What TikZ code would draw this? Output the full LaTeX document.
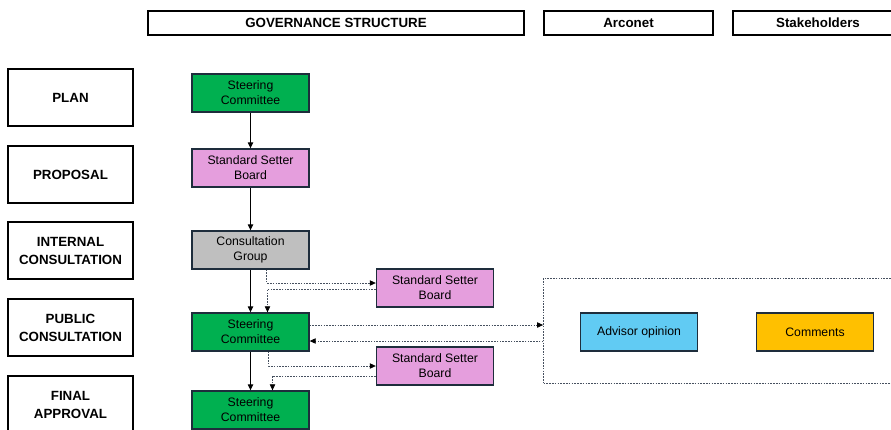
\documentclass[tikz,border=0pt]{standalone}
\usepackage{fontspec}
\setmainfont{Liberation Sans}
\usetikzlibrary{positioning,calc,arrows.meta}

\definecolor{scgreen}{RGB}{0,176,80}
\definecolor{ssbpink}{RGB}{229,158,221}
\definecolor{cggray}{RGB}{191,191,191}
\definecolor{advblue}{RGB}{97,203,243}
\definecolor{comorange}{RGB}{255,192,0}
\definecolor{edgenavy}{RGB}{30,45,60}
\definecolor{dotgray}{RGB}{70,80,95}

\tikzset{
  hdr/.style={draw=black, line width=1pt, inner sep=0pt, minimum height=18pt,
    font=\fontsize{10}{12}\selectfont\bfseries},
  stage/.style={draw=black, line width=1.2pt, inner sep=0pt, minimum width=93.75pt,
    minimum height=42.75pt, align=center, font=\fontsize{10}{13.5}\selectfont\bfseries},
  procbox/.style={draw=edgenavy, line width=1pt, inner sep=0pt, minimum width=87.75pt,
    minimum height=28.5pt, align=center, font=\fontsize{9.2}{11.2}\selectfont},
  solidarrow/.style={-{Triangle[length=4.5pt,width=4pt]}, line width=0.8pt, black},
  dotarrow/.style={-{Triangle[length=4.5pt,width=4pt,black]}, line width=0.6pt, dotgray,
    dash pattern=on 1.2pt off 0.9pt},
  dotbox/.style={draw=dotgray, line width=0.6pt, dash pattern=on 1.2pt off 0.9pt,
    inner sep=0pt, minimum width=264pt, minimum height=78.75pt}
}

\begin{document}
\begin{tikzpicture}[x=0.75pt, y=-0.75pt]
    \useasboundingbox (0,0) rectangle (891,429);
    \clip (0,0) rectangle (891,429);
    % Headers
    \node[hdr, minimum width=282pt] (hdrGov) at (336,23) {GOVERNANCE STRUCTURE};
    \node[hdr, minimum width=126.75pt] (hdrArc) at (628.5,23) {Arconet};
    \node[hdr, minimum width=127.5pt] (hdrStk) at (818,23) {Stakeholders};
    % Stages
    \node[stage] (stPlan) at (70.5,97.5) {PLAN};
    \node[stage] (stProp) at (70.5,174.5) {PROPOSAL};
    \node[stage] (stInt) at (70.5,250.5) {INTERNAL\\CONSULTATION};
    \node[stage] (stPub) at (70.5,327.5) {PUBLIC\\CONSULTATION};
    \node[stage] (stFin) at (70.5,404.5) {FINAL\\APPROVAL};
    % Governance column
    \node[procbox, fill=scgreen] (scPlan) at (250.5,93) {Steering\\Committee};
    \node[procbox, fill=ssbpink] (ssbProp) at (250.5,168) {Standard Setter\\Board};
    \node[procbox, fill=cggray] (cgInt) at (250.5,250) {Consultation\\Group};
    \node[procbox, fill=scgreen] (scPub) at (250.5,332) {Steering\\Committee};
    \node[procbox, fill=scgreen] (scFin) at (250.5,410) {Steering\\Committee};
    \node[procbox, fill=ssbpink] (ssbA) at (435,288) {Standard Setter\\Board};
    \node[procbox, fill=ssbpink] (ssbB) at (435,366) {Standard Setter\\Board};
    % Public consultation box
    \node[dotbox] (pubBox) at (719.5,330.5) {};
    \node[procbox, fill=advblue] (advOp) at (639,332) {Advisor opinion};
    \node[procbox, fill=comorange] (comm) at (815,332) {Comments};
    % Main flow
    \draw[solidarrow] (scPlan) -- (ssbProp);
    \draw[solidarrow] (ssbProp) -- (cgInt);
    \draw[solidarrow] (cgInt) -- (scPub);
    \draw[solidarrow] (scPub) -- (scFin);
    % Side loops
    \draw[dotarrow] ($(cgInt.south)+(16,0)$) |- ($(ssbA.west)+(0,-5)$);
    \draw[dotarrow] ($(ssbA.west)+(0,1)$) -| ($(scPub.north)+(17,0)$);
    \draw[dotarrow] ($(scPub.south)+(18,0)$) |- (ssbB.west);
    \draw[dotarrow] ($(ssbB.west)+(0,10)$) -| ($(scFin.north)+(22,0)$);
    \coordinate (pOut) at ($(scPub.east)+(0,-7)$);
    \coordinate (pIn) at ($(scPub.east)+(0,9)$);
    \draw[dotarrow] (pOut) -- (pOut -| pubBox.west);
    \draw[dotarrow] (pIn -| pubBox.west) -- (pIn);
\end{tikzpicture}
\end{document}
